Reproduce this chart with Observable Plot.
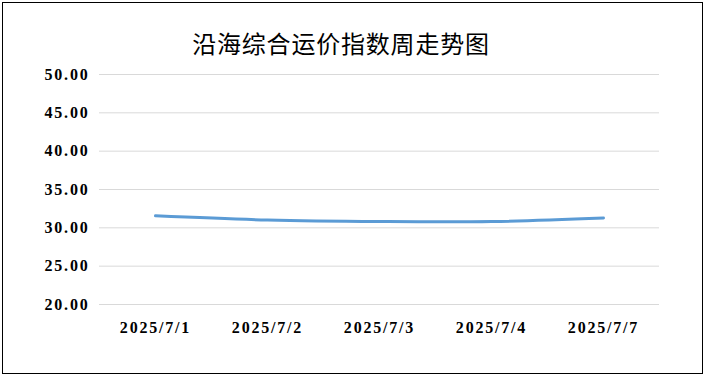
<!DOCTYPE html>
<html>
<head>
<meta charset="utf-8">
<script src="https://cdn.jsdelivr.net/npm/d3@7"></script>
<script src="https://cdn.jsdelivr.net/npm/@observablehq/plot@0.6"></script>
<style>
  html, body { margin: 0; padding: 0; background: #fff; }
  #wrap { position: relative; width: 706px; height: 378px; }
  #frame { position: absolute; left: 2px; top: 2px; width: 699px; height: 370px; border: 1px solid #000; box-sizing: content-box; pointer-events: none; }
  #title { position: absolute; left: 0; top: 28px; width: 682px; text-align: center; letter-spacing: 0.8px;
           font-family: "Noto Sans CJK SC", sans-serif; font-size: 24px; color: #000; line-height: 30px; }
  #chart { position: absolute; left: 0; top: 0; }
</style>
</head>
<body>
<div id="wrap">
  <div id="chart"></div>
  <div id="title">沿海综合运价指数周走势图</div>
  <div id="frame"></div>
</div>
<script>
// Coastal composite freight index, daily readings for the week
const dates = ["2025/7/1", "2025/7/2", "2025/7/3", "2025/7/4", "2025/7/7"];
const values = [31.56, 31.02, 30.82, 30.82, 31.28];
const yTicks = [20, 25, 30, 35, 40, 45, 50];

const data = dates.map((d, i) => ({date: d, value: values[i]}));

const chart = Plot.plot({
  width: 706,
  height: 378,
  marginLeft: 99,
  marginRight: 47,
  marginTop: 74,
  marginBottom: 74,
  style: {fontFamily: "'Liberation Serif', serif", fontSize: "16px", fontWeight: "bold", letterSpacing: "1.8px", color: "#000", background: "transparent"},
  x: {type: "point", domain: dates, padding: 0.5, label: null},
  y: {domain: [20, 50], label: null},
  marks: [
    Plot.gridY(yTicks, {stroke: "#d9d9d9", strokeOpacity: 1, strokeWidth: 1}),
    Plot.axisY(yTicks, {tickSize: 0, tickPadding: 10, tickFormat: d => d.toFixed(2), label: null}),
    Plot.axisX({tickSize: 0, tickPadding: 17, label: null}),
    Plot.line(data, {x: "date", y: "value", curve: "catmull-rom", stroke: "#5b9bd5", strokeWidth: 3})
  ]
});
document.getElementById("chart").appendChild(chart);
</script>
</body>
</html>
